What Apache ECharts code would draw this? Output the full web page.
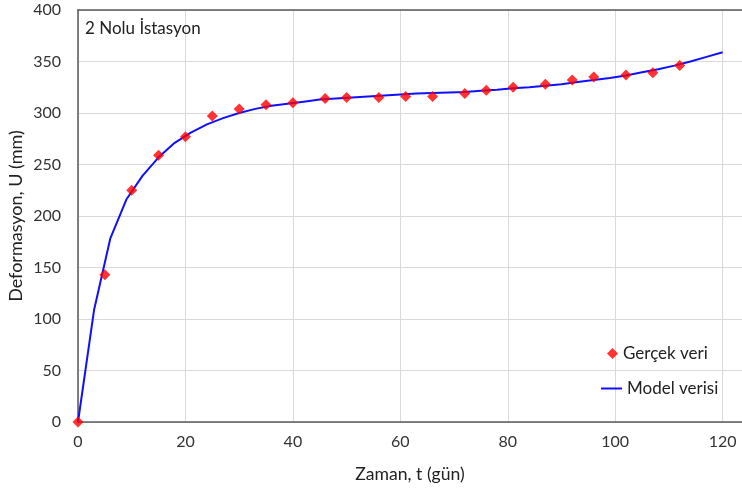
<!DOCTYPE html>
<html>
<head>
<meta charset="utf-8">
<script src="https://cdn.jsdelivr.net/npm/echarts@6/dist/echarts.min.js"></script>
<style>
  html, body { margin: 0; padding: 0; background: #fff; }
  #chart { width: 742px; height: 492px; }
</style>
</head>
<body>
<div id="chart"></div>
<script>
// measured points (t in days, U in mm)
const olcumGun = [0, 5, 10, 15, 20, 25, 30, 35, 40, 46, 50, 56, 61, 66, 72, 76, 81, 87, 92, 96, 102, 107, 112];
const olcumU = [0, 143, 225, 259, 277, 297, 304, 308, 310, 314, 315, 315, 316, 316, 319, 322, 325, 328, 332, 335, 337, 339, 346];

// model curve
const modelGun = [0, 3, 6, 9, 12, 15, 18, 21, 24, 27, 30, 33, 36, 39, 42, 45, 48, 51, 54, 57, 60, 63, 66, 69, 72, 75, 78, 81, 84, 87, 90, 93, 96, 99, 102, 105, 108, 111, 114, 117, 120];
const modelU = [0, 109, 178, 216, 239, 257, 271, 281, 289, 295, 300, 304, 307, 309, 311, 313, 314, 315, 316, 317, 318, 319, 319.5, 320, 320.5, 321.5, 322.5, 324, 325, 326.5, 328, 330, 332, 334, 336.5, 339.5, 342.5, 346, 350, 354.5, 359];

const yTicks = [0, 50, 100, 150, 200, 250, 300, 350, 400];

const font = "Lato, 'Open Sans', sans-serif";
const axisCol = "#595959";
const legendText = { fontSize: 17, color: "#222", fontFamily: font };

let myChart = echarts.init(document.getElementById("chart"));
myChart.setOption({
  animation: false,
  textStyle: { fontFamily: font },
  title: {
    text: "2 Nolu İstasyon",
    left: 80,
    top: 15,
    textStyle: { fontSize: 17, fontWeight: "normal", color: "#222", fontFamily: font },
  },
  grid: {
    left: 78,
    right: 0,
    top: 10,
    bottom: 70,
    containLabel: false,
    outerBoundsMode: "none",
  },
  legend: [
    {
      orient: "vertical",
      left: 602,
      top: 340,
      itemWidth: 11,
      itemHeight: 11,
      itemGap: 6,
      textStyle: legendText,
      data: [{ name: "Gerçek veri", icon: "diamond" }],
    },
    {
      orient: "vertical",
      left: 596,
      top: 375,
      itemWidth: 21,
      itemHeight: 2,
      textStyle: legendText,
      data: [{ name: "Model verisi", icon: "rect" }],
    },
  ],
  xAxis: [
    {
      type: "value",
      min: 0,
      max: 123.6,
      interval: 20,
      name: "Zaman, t (gün)",
      nameLocation: "middle",
      nameGap: 43,
      nameTextStyle: { fontSize: 17.6, color: "#222", fontFamily: font },
      axisLine: { lineStyle: { color: axisCol, width: 1.5 } },
      axisTick: { show: false },
      axisLabel: { fontSize: 16, color: "#333", margin: 12, showMaxLabel: false, fontFamily: font },
      splitLine: { lineStyle: { color: "#d9d9d9", width: 1 } },
    },
    {
      type: "value",
      position: "top",
      min: 0,
      max: 123.6,
      axisLine: { show: true, lineStyle: { color: axisCol, width: 1.5 } },
      axisTick: { show: false },
      axisLabel: { show: false },
      splitLine: { show: false },
    },
  ],
  yAxis: {
    type: "value",
    min: yTicks[0],
    max: yTicks[yTicks.length - 1],
    interval: 50,
    name: "Deformasyon, U (mm)",
    nameLocation: "middle",
    nameGap: 53,
    nameMoveOverlap: false,
    nameTextStyle: { fontSize: 18, color: "#222", fontFamily: font },
    axisLine: { show: true, lineStyle: { color: axisCol, width: 1.5 } },
    axisTick: { show: false },
    axisLabel: { fontSize: 16, color: "#333", margin: 17, fontFamily: font },
    splitLine: { lineStyle: { color: "#d9d9d9", width: 1 } },
  },
  series: [
    {
      name: "Model verisi",
      type: "line",
      data: modelGun.map((t, i) => [t, modelU[i]]),
      showSymbol: false,
      symbol: "none",
      lineStyle: { color: "#1010ff", width: 2 },
      itemStyle: { color: "#1010ff" },
      z: 2,
    },
    {
      name: "Gerçek veri",
      type: "scatter",
      data: olcumGun.map((t, i) => [t, olcumU[i]]),
      symbol: "diamond",
      symbolSize: 11,
      itemStyle: { color: "#ff0000" },
      z: 3,
    },
  ],
});
</script>
</body>
</html>
